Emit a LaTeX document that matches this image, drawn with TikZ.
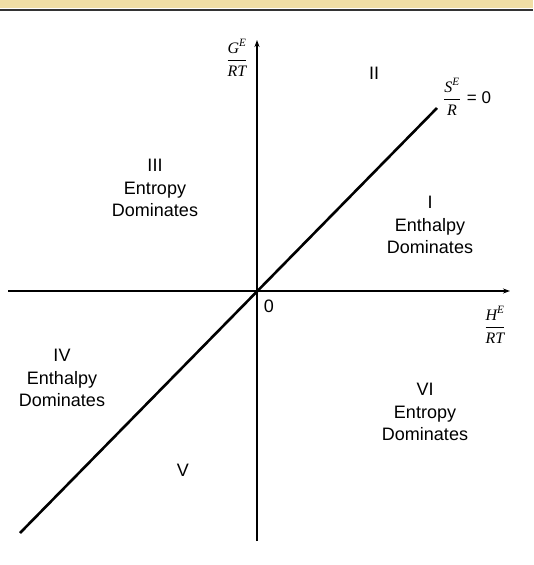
\documentclass[tikz,border=0pt]{standalone}
\usepackage{fontspec}
\setmainfont{Liberation Sans}
\newfontfamily\serif{Liberation Serif}
\usetikzlibrary{arrows.meta}
\definecolor{scanband}{RGB}{240,222,165}
\newcommand\ufrac[2]{$\displaystyle\frac{\hbox{\serif\itshape #1}}{\hbox{\serif\itshape #2}}$}
\begin{document}
\begin{tikzpicture}[x=1pt,y=-1pt,
  axis/.style={line width=1.3pt,-{Stealth[length=7pt,width=5pt]}},
  diag/.style={line width=2.6pt},
  region/.style={align=center,font=\fontsize{18}{22.5}\selectfont,inner sep=0pt},
  mathlbl/.style={inner sep=0pt,font=\fontsize{16}{18}\selectfont}]
\useasboundingbox (0,0) rectangle (533,565);
\fill[white] (0,0) rectangle (533,565);
% scan border
\fill[scanband] (0,0) rectangle (533,8);
\draw[line width=1.5pt,black!80] (0,10) -- (533,10);
% axes
\coordinate (vb) at (257,541);
\coordinate (vt) at (257,40);
\coordinate (hl) at (8,291);
\coordinate (hr) at (510,291);
\coordinate (dl) at (20,533);
\coordinate (dr) at (437,108);
\draw[axis] (vb) -- (vt);
\draw[axis] (hl) -- (hr);
\draw[diag] (dl) -- (dr);
% labels
\node[mathlbl] (gl) at (237,58) {\ufrac{G\textsuperscript{E}}{RT}};
\node[mathlbl] (hlb) at (495,325) {\ufrac{H\textsuperscript{E}}{RT}};
\node[mathlbl,anchor=west] (sl) at (443,97) {\ufrac{S\textsuperscript{E}}{R}\hspace{6pt}\fontsize{17}{20}\selectfont= 0};
\node[region] (zero) at (269,306) {0};
\node[region] (r2) at (374,73) {II};
\node[region] (r3) at (155,188) {III\\Entropy\\Dominates};
\node[region] (r1) at (430,225) {I\\Enthalpy\\Dominates};
\node[region] (r4) at (62,378) {IV\\Enthalpy\\Dominates};
\node[region] (r6) at (425,412) {VI\\Entropy\\Dominates};
\node[region] (r5) at (183,470) {V};
\end{tikzpicture}
\end{document}
